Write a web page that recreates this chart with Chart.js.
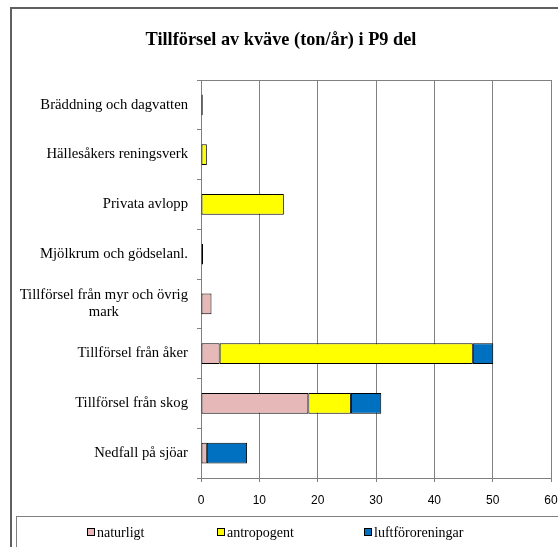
<!DOCTYPE html>
<html>
<head>
<meta charset="utf-8">
<script src="https://cdn.jsdelivr.net/npm/chart.js@4/dist/chart.umd.min.js"></script>
<style>
  html, body { margin: 0; padding: 0; background: #fff; overflow: hidden; }
  #frame {
    position: absolute; left: 10px; top: 7px; width: 600px; height: 600px;
    border: 2px solid #606060; box-sizing: border-box;
  }
  #wrap { position: absolute; left: 0; top: 0; width: 558px; height: 547px; }
  #title {
    position: absolute; left: 0; width: 562px; top: 29px; text-align: center;
    font: bold 18.3px "Liberation Serif", serif; color: #000;
  }
  #legend {
    position: absolute; left: 16px; top: 516px; width: 600px; height: 60px;
    border: 1px solid #808080; box-sizing: border-box;
    font: 14px "Liberation Serif", serif; color: #000;
  }
  #legend .item { position: absolute; top: 8px; white-space: nowrap; }
  #legend .sw {
    display: inline-block; width: 6px; height: 6px; border: 1px solid #000;
    margin-right: 2px; vertical-align: 1px;
  }
</style>
</head>
<body>
<div id="frame"></div>
<div id="wrap"><canvas id="chart" width="558" height="547"></canvas></div>
<div id="title">Tillförsel av kväve (ton/år) i P9 del</div>
<div id="legend"></div>
<script>
  // ton/år per källa, uppifrån och ned
  const categories = [
    ["Bräddning och dagvatten"],
    ["Hällesåkers reningsverk"],
    ["Privata avlopp"],
    ["Mjölkrum och gödselanl."],
    ["Tillförsel från myr och övrig", "mark"],
    ["Tillförsel från åker"],
    ["Tillförsel från skog"],
    ["Nedfall på sjöar"],
  ];
  const naturligt = [0, 0, 0, 0, 1.8, 3.2, 18.4, 1.0];
  const antropogent = [0.3, 1.0, 14.2, 0.35, 0, 43.4, 7.3, 0];
  const luftfororeningar = [0, 0, 0, 0, 0, 3.5, 5.2, 6.9];
  const xTicks = [0, 10, 20, 30, 40, 50, 60];

  const seriesNames = ["naturligt", "antropogent", "luftföroreningar"];
  const seriesColors = ["#E6B9B8", "#FFFF00", "#0070C0"];
  const legendLeft = [70, 200, 347];

  const grey = "#808080";

  // y-etiketter: blocket högerställt, raderna centrerade inom blocket
  const yLabels = {
    id: "yLabels",
    afterDraw(chart) {
      const ctx = chart.ctx;
      const y = chart.scales.y;
      const right = y.right - 13;
      const lh = 17;
      ctx.save();
      ctx.font = "14.7px 'Liberation Serif', serif";
      ctx.fillStyle = "#000";
      ctx.textAlign = "center";
      ctx.textBaseline = "middle";
      categories.forEach((lines, i) => {
        const w = Math.max(...lines.map(l => ctx.measureText(l).width));
        const cx = right - w / 2;
        const cy = y.getPixelForValue(i);
        const top = cy - (lines.length - 1) * lh / 2;
        lines.forEach((l, k) => ctx.fillText(l, cx, top + k * lh));
      });
      ctx.restore();
    },
  };

  new Chart(document.getElementById("chart"), {
    type: "bar",
    data: {
      labels: categories.map(c => c.join(" ")),
      datasets: [naturligt, antropogent, luftfororeningar].map((d, i) => ({
        label: seriesNames[i],
        data: d,
        backgroundColor: seriesColors[i],
        borderColor: "#000",
        borderWidth: 1,
        borderSkipped: false,
        categoryPercentage: 1,
        barPercentage: 0.42,
      })),
    },
    options: {
      indexAxis: "y",
      responsive: false,
      animation: false,
      devicePixelRatio: 1,
      layout: { padding: { top: 80, right: 7, bottom: 0, left: 0 } },
      plugins: { legend: { display: false }, title: { display: false }, tooltip: { enabled: false } },
      scales: {
        x: {
          stacked: true,
          min: 0,
          max: 60,
          afterFit(s) { s.height = 69; s.paddingLeft = 0; s.paddingRight = 0; },
          afterBuildTicks(s) { s.ticks = xTicks.map(v => ({ value: v })); },
          ticks: {
            color: "#000",
            font: { family: "'Liberation Sans', Arial, sans-serif", size: 12 },
            padding: 11,
          },
          grid: { color: grey, tickColor: grey, tickLength: 4, lineWidth: 1 },
          border: { color: grey, width: 1 },
        },
        y: {
          stacked: true,
          afterFit(s) { s.width = 201; },
          ticks: { display: false },
          grid: {
            color: c => (c.index === 0 ? grey : "rgba(0,0,0,0)"),
            tickColor: grey,
            tickLength: 4,
            lineWidth: 1,
          },
          border: { color: grey, width: 1 },
        },
      },
    },
    plugins: [yLabels],
  });

  const legend = document.getElementById("legend");
  seriesNames.forEach((name, i) => {
    const item = document.createElement("span");
    item.className = "item";
    item.style.left = legendLeft[i] + "px";
    const sw = document.createElement("span");
    sw.className = "sw";
    sw.style.background = seriesColors[i];
    item.appendChild(sw);
    item.appendChild(document.createTextNode(name));
    legend.appendChild(item);
  });
</script>
</body>
</html>
